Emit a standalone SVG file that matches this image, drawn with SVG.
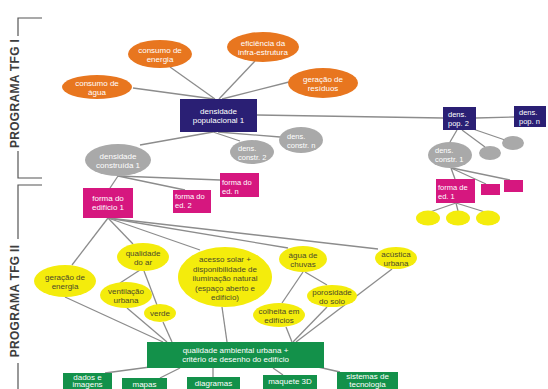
<svg xmlns="http://www.w3.org/2000/svg" width="548" height="389" viewBox="0 0 548 389">
<style>
text{font-family:"Liberation Sans",Arial,sans-serif;font-size:8px;}
.w{fill:#ffffff;text-anchor:middle;}
.wl{fill:#ffffff;text-anchor:start;font-size:7.5px;}
.d{fill:#4a4a2a;text-anchor:middle;}
.or{fill:#e8761f;}
.nv{fill:#2a1f74;}
.gr{fill:#a9a9a9;}
.pk{fill:#d6177f;}
.ye{fill:#f4ec0c;}
.gn{fill:#13914a;}
.con line{stroke:#8c8c8c;stroke-width:1.3;}
.br{fill:none;stroke:#555555;stroke-width:1.2;}
.lab{font-size:12px;font-weight:bold;fill:#3d3d3d;text-anchor:middle;letter-spacing:0.3px;}
</style>
<rect width="548" height="389" fill="#ffffff"/>

<g id="brackets">
<path class="br" d="M42,18 H18 V36 M18,151 V178 H42"/>
<path class="br" d="M42,185 H18 V239 M18,363 V389"/>
<text class="lab" transform="translate(19,93.5) rotate(-90)">PROGRAMA TFG I</text>
<text class="lab" transform="translate(19,301) rotate(-90)">PROGRAMA TFG II</text>
</g>

<g id="connectors" class="con">
<line x1="133" y1="88" x2="214" y2="99"/>
<line x1="170" y1="67" x2="215" y2="99"/>
<line x1="255" y1="61" x2="219" y2="99"/>
<line x1="289" y1="82" x2="222" y2="99"/>
<line x1="257" y1="115" x2="443" y2="118"/>
<line x1="476" y1="118" x2="514" y2="117"/>
<line x1="213" y1="132" x2="140" y2="145"/>
<line x1="213" y1="132" x2="240" y2="141"/>
<line x1="218" y1="132" x2="280" y2="137"/>
<line x1="118" y1="176" x2="110" y2="188"/>
<line x1="118" y1="176" x2="185" y2="190"/>
<line x1="118" y1="176" x2="220" y2="180"/>
<line x1="457" y1="130" x2="450" y2="142"/>
<line x1="462" y1="130" x2="485" y2="147"/>
<line x1="470" y1="128" x2="505" y2="140"/>
<line x1="451" y1="168" x2="455" y2="179"/>
<line x1="451" y1="168" x2="486" y2="184"/>
<line x1="452" y1="168" x2="510" y2="180"/>
<line x1="456" y1="203" x2="430" y2="212"/>
<line x1="456" y1="203" x2="458" y2="211"/>
<line x1="456" y1="203" x2="485" y2="212"/>
<line x1="108" y1="218" x2="72" y2="265"/>
<line x1="108" y1="218" x2="133" y2="244"/>
<line x1="108" y1="218" x2="200" y2="250"/>
<line x1="108" y1="218" x2="288" y2="248"/>
<line x1="108" y1="218" x2="378" y2="249"/>
<line x1="65" y1="297" x2="163" y2="342"/>
<line x1="140" y1="270" x2="120" y2="283"/>
<line x1="144" y1="271" x2="157" y2="305"/>
<line x1="127" y1="308" x2="167" y2="342"/>
<line x1="163" y1="322" x2="172" y2="342"/>
<line x1="222" y1="307" x2="227" y2="342"/>
<line x1="303" y1="272" x2="282" y2="303"/>
<line x1="305" y1="272" x2="327" y2="285"/>
<line x1="286" y1="327" x2="292" y2="342"/>
<line x1="327" y1="307" x2="293" y2="342"/>
<line x1="392" y1="269" x2="296" y2="342"/>
<line x1="150" y1="367" x2="105" y2="373"/>
<line x1="180" y1="368" x2="160" y2="378"/>
<line x1="213" y1="368" x2="213" y2="377"/>
<line x1="273" y1="368" x2="283" y2="375"/>
<line x1="318" y1="367" x2="340" y2="372"/>
</g>

<g id="consumo-agua"><ellipse class="or" cx="97" cy="87" rx="35" ry="12"/><text class="w" x="97" y="85.5">consumo de</text><text class="w" x="97" y="94.5">água</text></g>
<g id="consumo-energia"><ellipse class="or" cx="160" cy="54" rx="32" ry="14"/><text class="w" x="160" y="52.5">consumo de</text><text class="w" x="160" y="61.5">energia</text></g>
<g id="eficiencia"><ellipse class="or" cx="263" cy="47" rx="36" ry="15"/><text class="w" x="263" y="45.5">eficiência da</text><text class="w" x="263" y="54.5">infra-estrutura</text></g>
<g id="residuos"><ellipse class="or" cx="323" cy="83" rx="35" ry="15"/><text class="w" x="323" y="81.5">geração de</text><text class="w" x="323" y="90.5">resíduos</text></g>

<g id="dens-pop-1"><rect class="nv" x="180" y="99" width="77" height="33"/><text class="w" x="218.5" y="114">densidade</text><text class="w" x="218.5" y="123">populacional 1</text></g>
<g id="dens-pop-2"><rect class="nv" x="443" y="107" width="33" height="23"/><text class="wl" x="448" y="117">dens.</text><text class="wl" x="448" y="126">pop. 2</text></g>
<g id="dens-pop-n"><rect class="nv" x="514" y="106" width="32" height="21"/><text class="wl" x="519" y="115">dens.</text><text class="wl" x="519" y="124">pop. n</text></g>

<g id="dens-constr-1"><ellipse class="gr" cx="118" cy="160" rx="33" ry="16"/><text class="w" x="118" y="158.5">densidade</text><text class="w" x="118" y="167.5">construída 1</text></g>
<g id="dens-constr-2"><ellipse class="gr" cx="252" cy="152" rx="22" ry="12"/><text class="wl" x="238" y="150.5">dens.</text><text class="wl" x="238" y="159.5">constr. 2</text></g>
<g id="dens-constr-n"><ellipse class="gr" cx="301" cy="140" rx="22" ry="13"/><text class="wl" x="287" y="138.5">dens.</text><text class="wl" x="287" y="147.5">constr. n</text></g>
<g id="dens-constr-1b"><ellipse class="gr" cx="450" cy="155" rx="22" ry="13"/><text class="wl" x="435" y="153">dens.</text><text class="wl" x="435" y="162">constr. 1</text></g>
<g id="gray-small-1"><ellipse class="gr" cx="490" cy="153" rx="11" ry="7"/></g>
<g id="gray-small-2"><ellipse class="gr" cx="513" cy="143" rx="11" ry="7"/></g>

<g id="forma-edificio-1"><rect class="pk" x="83" y="188" width="50" height="30"/><text class="w" x="108" y="201">forma do</text><text class="w" x="108" y="210">edifício 1</text></g>
<g id="forma-ed-2"><rect class="pk" x="173" y="190" width="38" height="23"/><text class="wl" x="175" y="199">forma do</text><text class="wl" x="175" y="208">ed. 2</text></g>
<g id="forma-ed-n"><rect class="pk" x="220" y="173" width="39" height="24"/><text class="wl" x="222" y="184.5">forma do</text><text class="wl" x="222" y="193.5">ed. n</text></g>
<g id="forma-de-ed-1"><rect class="pk" x="436" y="179" width="39" height="24"/><text class="wl" x="438" y="189.5">forma de</text><text class="wl" x="438" y="198.5">ed. 1</text></g>
<g id="pink-small-1"><rect class="pk" x="481" y="184" width="19" height="11"/></g>
<g id="pink-small-2"><rect class="pk" x="504" y="180" width="19" height="12"/></g>
<g id="yellow-small-1"><ellipse class="ye" cx="428" cy="218" rx="12" ry="7.5"/></g>
<g id="yellow-small-2"><ellipse class="ye" cx="458" cy="218" rx="12" ry="7.5"/></g>
<g id="yellow-small-3"><ellipse class="ye" cx="488" cy="218" rx="12" ry="7.5"/></g>

<g id="geracao-energia"><ellipse class="ye" cx="65" cy="281" rx="31" ry="16"/><text class="d" x="65" y="279.5">geração de</text><text class="d" x="65" y="288.5">energia</text></g>
<g id="qualidade-ar"><ellipse class="ye" cx="143" cy="257" rx="26" ry="14"/><text class="d" x="143" y="255.5">qualidade</text><text class="d" x="143" y="264.5">do ar</text></g>
<g id="ventilacao"><ellipse class="ye" cx="126" cy="295" rx="26" ry="13"/><text class="d" x="126" y="293.5">ventilação</text><text class="d" x="126" y="302.5">urbana</text></g>
<g id="verde"><ellipse class="ye" cx="160" cy="313" rx="16" ry="9"/><text class="d" x="160" y="316">verde</text></g>
<g id="acesso-solar"><ellipse class="ye" cx="225" cy="277" rx="47" ry="30"/><text class="d" x="225" y="262">acesso solar +</text><text class="d" x="225" y="271.5">disponibilidade de</text><text class="d" x="225" y="281">iluminação natural</text><text class="d" x="225" y="290.5">(espaço aberto e</text><text class="d" x="225" y="300">edifício)</text></g>
<g id="agua-chuvas"><ellipse class="ye" cx="303" cy="259" rx="24" ry="13"/><text class="d" x="303" y="257.5">água de</text><text class="d" x="303" y="266.5">chuvas</text></g>
<g id="porosidade"><ellipse class="ye" cx="332" cy="296" rx="25" ry="11"/><text class="d" x="332" y="294.5">porosidade</text><text class="d" x="332" y="303.5">do solo</text></g>
<g id="colheita"><ellipse class="ye" cx="279" cy="315" rx="26" ry="12"/><text class="d" x="279" y="313.5">colheita em</text><text class="d" x="279" y="322.5">edifícios</text></g>
<g id="acustica"><ellipse class="ye" cx="396" cy="258" rx="21" ry="11"/><text class="d" x="396" y="256.5">acústica</text><text class="d" x="396" y="265.5">urbana</text></g>

<g id="qualidade-ambiental"><rect class="gn" x="147" y="342" width="177" height="26"/><text class="w" x="235.5" y="352.5">qualidade ambiental urbana +</text><text class="w" x="235.5" y="362">critério de desenho do edifício</text></g>
<g id="dados-imagens"><rect class="gn" x="63" y="373" width="49" height="20"/><text class="w" x="87.5" y="379.5">dados e</text><text class="w" x="87.5" y="387">imagens</text></g>
<g id="mapas"><rect class="gn" x="122" y="378" width="45" height="15"/><text class="w" x="144.5" y="387">mapas</text></g>
<g id="diagramas"><rect class="gn" x="187" y="377" width="53" height="15"/><text class="w" x="213.5" y="386">diagramas</text></g>
<g id="maquete"><rect class="gn" x="263" y="375" width="54" height="15"/><text class="w" x="290" y="384">maquete 3D</text></g>
<g id="sistemas"><rect class="gn" x="337" y="372" width="61" height="20"/><text class="w" x="367.5" y="379">sistemas de</text><text class="w" x="367.5" y="387">tecnologia</text></g>
</svg>
